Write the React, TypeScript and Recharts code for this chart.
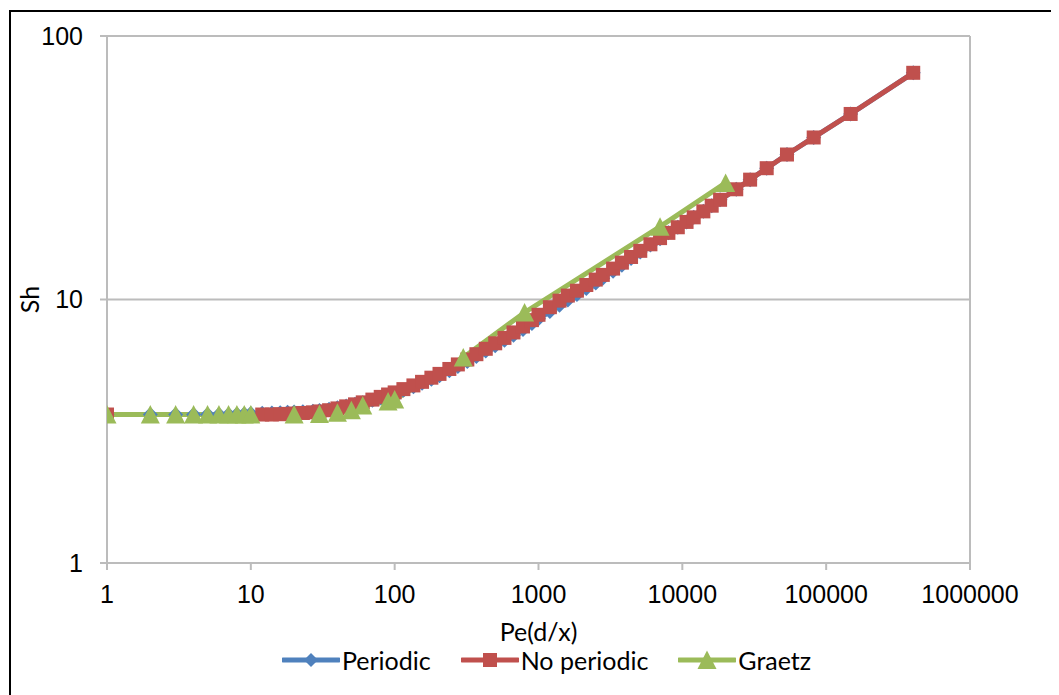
import { LineChart, Line, XAxis, YAxis, CartesianGrid, Legend, ReferenceLine } from "recharts"

// Pe(d/x) values and Sh
const pePeriodic = [
  1, 2, 3, 4, 5, 6, 7, 8, 9, 10, 12, 14, 16, 18, 20, 23, 27, 30, 35, 40, 46, 53, 60, 70, 80, 90, 100,
  115, 135, 155, 180, 205, 240, 275, 320, 370, 430, 500, 580, 670, 780, 900, 1000, 1200, 1400, 1600,
  1850, 2150, 2500, 2800, 3300, 3800, 4400, 5100, 6000, 7000, 8000, 9300, 10700, 12000, 14000, 16000,
  18300, 23700, 29600, 38600, 53400, 81900, 148000, 403000,
]
const shPeriodic = [
  3.66, 3.66, 3.66, 3.66, 3.66, 3.66, 3.66, 3.67, 3.68, 3.69, 3.7, 3.71, 3.72, 3.73, 3.74, 3.75, 3.77,
  3.79, 3.83, 3.88, 3.94, 4.0, 4.06, 4.15, 4.24, 4.32, 4.4, 4.52, 4.67, 4.81, 4.98, 5.14, 5.36, 5.57,
  5.82, 6.08, 6.37, 6.68, 7.0, 7.32, 7.7, 8.1, 8.45, 9.0, 9.5, 9.95, 10.45, 11.0, 11.55, 12.05, 12.8,
  13.5, 14.3, 15.15, 16.1, 17.0, 17.9, 18.8, 19.7, 20.5, 21.6, 22.7, 23.9, 26.2, 28.5, 31.5, 35.5,
  41.2, 50.6, 72.5,
]

const peNoPeriodic = [
  1, 12, 14, 16, 18, 20, 23, 27, 30, 35, 40, 46, 53, 60, 70, 80, 90, 100, 115, 135, 155, 180, 205,
  240, 275, 320, 370, 430, 500, 580, 670, 780, 900, 1000, 1200, 1400, 1600, 1850, 2150, 2500, 2800,
  3300, 3800, 4400, 5100, 6000, 7000, 8000, 9300, 10700, 12000, 14000, 16000, 18300, 23700, 29600,
  38600, 53400, 81900, 148000, 403000,
]
const shNoPeriodic = [
  3.66, 3.66, 3.66, 3.67, 3.68, 3.69, 3.71, 3.73, 3.76, 3.8, 3.86, 3.93, 4.0, 4.07, 4.17, 4.27, 4.36,
  4.44, 4.57, 4.72, 4.87, 5.05, 5.22, 5.45, 5.67, 5.92, 6.2, 6.5, 6.82, 7.15, 7.5, 7.9, 8.35, 8.75,
  9.35, 9.9, 10.35, 10.8, 11.35, 11.9, 12.4, 13.1, 13.8, 14.5, 15.3, 16.2, 17.1, 17.9, 18.8, 19.7,
  20.5, 21.6, 22.7, 23.9, 26.2, 28.5, 31.5, 35.5, 41.2, 50.6, 72.5,
]

const peGraetz = [1, 2, 3, 4, 5, 6, 7, 8, 9, 10, 20, 30, 40, 50, 60, 90, 100, 300, 800, 7000, 20000]
const shGraetz = [
  3.66, 3.66, 3.66, 3.66, 3.66, 3.66, 3.66, 3.66, 3.66, 3.66, 3.66, 3.68, 3.72, 3.8, 3.96, 4.1, 4.17,
  6.02, 8.93, 18.9, 27.7,
]

const xTicks = [1, 10, 100, 1000, 10000, 100000, 1000000]
const yTicks = [1, 10, 100]

const toRows = (pe: number[], sh: number[]) => pe.map((p, i) => ({ pe: p, sh: sh[i] }))
const periodic = toRows(pePeriodic, shPeriodic)
const noPeriodic = toRows(peNoPeriodic, shNoPeriodic)
const graetz = toRows(peGraetz, shGraetz)

const BLUE = "#4f81bd"
const RED = "#c0504d"
const GREEN = "#9bbb59"
const GRID = "#bcbcbc"

const diamond = (cx: number, cy: number, r: number) =>
  `${cx},${cy - r} ${cx + r},${cy} ${cx},${cy + r} ${cx - r},${cy}`
const triangle = (cx: number, cy: number) =>
  `${cx},${cy - 9.5} ${cx + 9.5},${cy + 9} ${cx - 9.5},${cy + 9}`

function DiamondDot(props: any) {
  const { cx, cy, index } = props
  if (cx == null || cy == null) return <g key={`pd-${index}`} />
  return <polygon key={`pd-${index}`} points={diamond(cx, cy, 7.5)} fill={BLUE} />
}

function SquareDot(props: any) {
  const { cx, cy, index } = props
  if (cx == null || cy == null) return <g key={`ns-${index}`} />
  return <rect key={`ns-${index}`} x={cx - 7} y={cy - 7} width={14} height={14} fill={RED} />
}

function TriangleDot(props: any) {
  const { cx, cy, index } = props
  if (cx == null || cy == null) return <g key={`gt-${index}`} />
  return <polygon key={`gt-${index}`} points={triangle(cx, cy)} fill={GREEN} />
}

const legendItems = [
  { name: "Periodic", color: BLUE, marker: "diamond" },
  { name: "No periodic", color: RED, marker: "square" },
  { name: "Graetz", color: GREEN, marker: "triangle" },
]

function ChartLegend() {
  return (
    <div style={{ display: "flex", justifyContent: "center", height: 34, alignItems: "center", paddingLeft: 76, gap: 30 }}>
      {legendItems.map((it) => (
        <div key={it.name} style={{ display: "flex", alignItems: "center" }}>
          <svg width={58} height={22}>
            <line x1={1} y1={11} x2={57} y2={11} stroke={it.color} strokeWidth={5} strokeLinecap="round" />
            {it.marker === "diamond" && <polygon points={diamond(29, 11, 7)} fill={it.color} />}
            {it.marker === "square" && <rect x={22} y={4} width={14} height={14} fill={it.color} />}
            {it.marker === "triangle" && <polygon points={triangle(29, 11)} fill={it.color} />}
          </svg>
          <span style={{ fontFamily: "Lato", fontSize: 25, color: "#000", marginLeft: 2, lineHeight: "34px" }}>
            {it.name}
          </span>
        </div>
      ))}
    </div>
  )
}

function ShLabel(props: any) {
  const { viewBox } = props
  const x = viewBox.x - 8
  const y = viewBox.y + viewBox.height / 2
  return (
    <text x={x} y={y} transform={`rotate(-90, ${x}, ${y})`} textAnchor="middle" fontFamily="Lato" fontSize={25} fill="#000">
      Sh
    </text>
  )
}

export default function App() {
  return (
    <div style={{ position: "relative", width: 1051, height: 687 }}>
      <div
        style={{
          position: "absolute",
          left: 1,
          top: 2,
          width: 1050,
          height: 685,
          borderLeft: "2px solid #000",
          borderTop: "2px solid #000",
          boxSizing: "border-box",
        }}
      />
      <LineChart width={1051} height={687} margin={{ top: 28, right: 89, left: 39, bottom: 18 }}>
        <CartesianGrid horizontal vertical={false} stroke={GRID} strokeWidth={2} />
        <XAxis
          dataKey="pe"
          type="number"
          scale="log"
          domain={[1, 1000000]}
          ticks={xTicks}
          allowDataOverflow
          height={80}
          stroke={GRID}
          strokeWidth={2}
          tickSize={7}
          tickMargin={15}
          tick={{ fill: "#000", fontSize: 25, fontFamily: "Liberation Sans" }}
          label={{ value: "Pe(d/x)", position: "insideBottom", offset: 2, fill: "#000", fontSize: 25, fontFamily: "Lato" }}
        />
        <YAxis
          dataKey="sh"
          type="number"
          scale="log"
          domain={[1, 100]}
          ticks={yTicks}
          allowDataOverflow
          width={60}
          stroke={GRID}
          strokeWidth={2}
          tickSize={7}
          tickMargin={17}
          tick={{ fill: "#000", fontSize: 25, fontFamily: "Liberation Sans" }}
          label={<ShLabel />}
        />
        <ReferenceLine x={1000000} stroke={GRID} strokeWidth={2} />
        <Legend verticalAlign="bottom" content={<ChartLegend />} />
        <Line
          data={periodic}
          dataKey="sh"
          name="Periodic"
          type="linear"
          stroke={BLUE}
          strokeWidth={5}
          dot={DiamondDot}
          activeDot={false}
          isAnimationActive={false}
        />
        <Line
          data={noPeriodic}
          dataKey="sh"
          name="No periodic"
          type="linear"
          stroke={RED}
          strokeWidth={5}
          dot={SquareDot}
          activeDot={false}
          isAnimationActive={false}
        />
        <Line
          data={graetz}
          dataKey="sh"
          name="Graetz"
          type="linear"
          stroke={GREEN}
          strokeWidth={5}
          dot={TriangleDot}
          activeDot={false}
          isAnimationActive={false}
        />
      </LineChart>
    </div>
  )
}
